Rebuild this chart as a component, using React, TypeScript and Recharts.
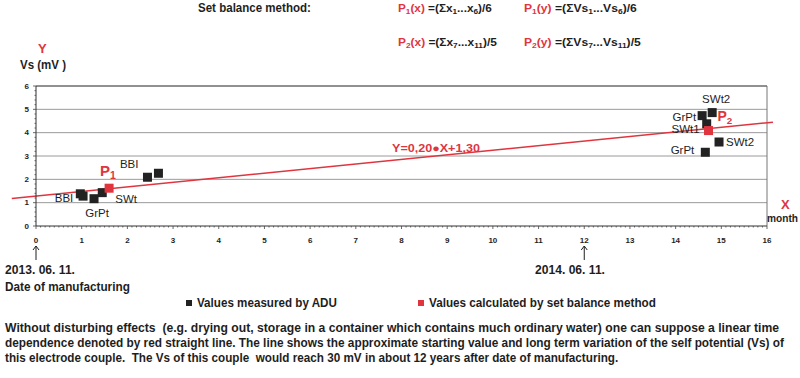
import React, { useLayoutEffect, useRef, useState } from "react";
import {
  ScatterChart,
  Scatter,
  XAxis,
  YAxis,
  CartesianGrid,
  ReferenceLine,
} from "recharts";

// measured by ADU (months after manufacturing, Vs in mV)
const measuredX = [0.97, 1.03, 1.27, 1.45, 2.44, 2.68, 14.58, 14.8, 14.68, 14.95, 14.65];
const measuredY = [1.38, 1.28, 1.17, 1.43, 2.09, 2.26, 4.73, 4.86, 4.38, 3.6, 3.16];
const measuredNames = ["BBI", "", "GrPt", "SWt", "BBI", "", "GrPt", "SWt2", "SWt1", "SWt2", "GrPt"];

// set balance points
const balanceX = [1.6, 14.72];
const balanceY = [1.62, 4.09];
const balanceNames = ["1", "2"];

// red straight line end points
const trendX = [-0.53, 16.13];
const trendY = [1.18, 4.45];

const gridValues = [1, 2, 3, 4, 5, 6];
const arrowMonths = [0, 12];

const xTicks = Array.from({ length: 161 }, (_, i) => i / 10);
const yTicks = Array.from({ length: 31 }, (_, i) => i / 5);

const FONT = "'Liberation Sans', Arial, sans-serif";
const RED = "#e0353f";
const INK = "#1e1e1e";

// label offsets from the square centre, same order as measuredNames
const labelPlacement = [
  { dx: -7, dy: 4, anchor: "end" },
  { dx: 0, dy: 0, anchor: "start" },
  { dx: 3, dy: 14, anchor: "middle" },
  { dx: 13, dy: 6, anchor: "start" },
  { dx: -9, dy: -13, anchor: "end" },
  { dx: 0, dy: 0, anchor: "start" },
  { dx: -6, dy: 1, anchor: "end" },
  { dx: 4, dy: -14, anchor: "middle" },
  { dx: -7, dy: 5, anchor: "end" },
  { dx: 7, dy: 0, anchor: "start" },
  { dx: -11, dy: -2, anchor: "end" },
];
const pPlacement = [
  { dx: -9, dy: -12, size: 15 },
  { dx: 9, dy: -10, size: 14 },
];

const measured = measuredX.map((x, i) => ({ x, y: measuredY[i], name: measuredNames[i], i }));
const balance = balanceX.map((x, i) => ({ x, y: balanceY[i], name: balanceNames[i], i }));

const isMajor = (v: number) => Math.abs(v - Math.round(v)) < 1e-6;

function XTick(props: any) {
  const { x, y, payload } = props;
  const v = payload.value;
  const major = isMajor(v);
  const arrow = major && arrowMonths.includes(Math.round(v));
  return (
    <g>
      <line x1={x} x2={x} y1={y} y2={y + (major ? 3 : 1.5)} stroke="#444" strokeWidth={0.8} />
      {major && (
        <text x={x} y={y + 14} textAnchor="middle" dominantBaseline="central" fontSize={8} fontWeight="bold" fontFamily={FONT} fill={INK}>
          {Math.round(v)}
        </text>
      )}
      {arrow && (
        <g stroke={INK} strokeWidth={1} fill="none">
          <line x1={x} x2={x} y1={y + 34} y2={y + 20} />
          <polyline points={`${x - 3},${y + 24} ${x},${y + 20} ${x + 3},${y + 24}`} />
        </g>
      )}
    </g>
  );
}

function YTick(props: any) {
  const { x, y, payload } = props;
  const v = payload.value;
  const major = isMajor(v);
  return (
    <g>
      <line x1={x} x2={x - (major ? 3 : 1.5)} y1={y} y2={y} stroke="#444" strokeWidth={0.8} />
      {major && (
        <text x={x - 7} y={y} textAnchor="end" dominantBaseline="central" fontSize={8} fontWeight="bold" fontFamily={FONT} fill={INK}>
          {Math.round(v)}
        </text>
      )}
    </g>
  );
}

function MeasuredShape(props: any) {
  const { cx, cy, payload } = props;
  const p = labelPlacement[payload.i];
  return (
    <g>
      <rect x={cx - 4.5} y={cy - 4.5} width={9} height={9} fill="#222" />
      {payload.name && (
        <text x={cx + p.dx} y={cy + p.dy} textAnchor={p.anchor} dominantBaseline="central" fontSize={11.5} fontFamily={FONT} fill={INK}>
          {payload.name}
        </text>
      )}
    </g>
  );
}

function BalanceShape(props: any) {
  const { cx, cy, payload } = props;
  const p = pPlacement[payload.i];
  return (
    <g>
      <rect x={cx - 4.5} y={cy - 4.5} width={9} height={9} fill={RED} />
      <text x={cx + p.dx} y={cy + p.dy} fontSize={p.size} fontWeight="bold" fontFamily={FONT} fill={RED}>
        P
        <tspan fontSize={p.size * 0.7} dy={3}>{payload.name}</tspan>
      </text>
    </g>
  );
}

// overlay text, centred vertically on y; w squeezes it horizontally to the measured width
function T({ x, y, w, size = 12, color = INK, children }: any) {
  const ref = useRef<SVGTextElement>(null);
  const [sx, setSx] = useState(1);
  useLayoutEffect(() => {
    if (w && ref.current) {
      const natural = ref.current.getComputedTextLength();
      if (natural > 0) setSx(w / natural);
    }
  }, [w]);
  return (
    <text
      ref={ref}
      transform={`translate(${x} ${y + size * 0.36}) scale(${sx} 1)`}
      fontSize={size}
      fontWeight="bold"
      fontFamily={FONT}
      fill={color}
      style={{ whiteSpace: "pre" }}
    >
      {children}
    </text>
  );
}

function Formula({ x, y, w, n, axis, body, idxA, idxB, div }: any) {
  return (
    <T x={x} y={y} w={w} size={11.5}>
      <tspan fill={RED}>P</tspan>
      <tspan fill={RED} fontSize={8} dy={2}>{n}</tspan>
      <tspan fill={RED} dy={-2}>({axis})</tspan>
      <tspan> =(Σ{body}</tspan>
      <tspan fontSize={8} dy={2}>{idxA}</tspan>
      <tspan dy={-2}>...{body}</tspan>
      <tspan fontSize={8} dy={2}>{idxB}</tspan>
      <tspan dy={-2}>)/{div}</tspan>
    </T>
  );
}

const paragraph = [
  "Without disturbing effects  (e.g. drying out, storage in a container which contains much ordinary water) one can suppose a linear time",
  "dependence denoted by red straight line. The line shows the approximate starting value and long term variation of the self potential (Vs) of",
  "this electrode couple.  The Vs of this couple  would reach 30 mV in about 12 years after date of manufacturing.",
];
const paragraphWidths = [775, 780, 614];

export default function App() {
  return (
    <div style={{ position: "absolute", left: 0, top: 0, width: 800, height: 378, background: "#fff", overflow: "hidden" }}>
      <ScatterChart width={800} height={378} margin={{ top: 86, right: 33, bottom: 122, left: 16 }}>
        <CartesianGrid horizontal vertical={false} horizontalValues={gridValues} stroke="#9a9a9a" strokeWidth={1} />
        <XAxis
          type="number"
          dataKey="x"
          domain={[0, 16]}
          ticks={xTicks}
          interval={0}
          tickSize={0}
          tickMargin={0}
          tickLine={false}
          tick={<XTick />}
          axisLine={{ stroke: "#333", strokeWidth: 1 }}
          height={30}
        />
        <YAxis
          type="number"
          dataKey="y"
          domain={[0, 6]}
          ticks={yTicks}
          interval={0}
          tickSize={0}
          tickMargin={0}
          tickLine={false}
          tick={<YTick />}
          axisLine={{ stroke: "#333", strokeWidth: 1 }}
          width={20}
        />
        <ReferenceLine x={16} stroke="#777" strokeWidth={1} />
        <ReferenceLine y={6} stroke="#555" strokeWidth={1} />
        <ReferenceLine
          segment={[
            { x: trendX[0], y: trendY[0] },
            { x: trendX[1], y: trendY[1] },
          ]}
          ifOverflow="visible"
          stroke={RED}
          strokeWidth={1.5}
        />
        <Scatter data={measured} shape={<MeasuredShape />} isAnimationActive={false} />
        <Scatter data={balance} shape={<BalanceShape />} isAnimationActive={false} />
      </ScatterChart>

      <svg width={800} height={378} style={{ position: "absolute", left: 0, top: 0, pointerEvents: "none" }}>
        <T x={198} y={8} w={113}>Set balance method:</T>
        <Formula x={398} y={8} w={94} n="1" axis="x" body="x" idxA="1" idxB="6" div="6" />
        <Formula x={524} y={8} w={113} n="1" axis="y" body="Vs" idxA="1" idxB="6" div="6" />
        <Formula x={398} y={42} w={99} n="2" axis="x" body="x" idxA="7" idxB="11" div="5" />
        <Formula x={524} y={42} w={117} n="2" axis="y" body="Vs" idxA="7" idxB="11" div="5" />

        <T x={38} y={48} size={13} color={RED}>Y</T>
        <T x={20} y={65} w={46}>Vs (mV )</T>
        <T x={392} y={148} w={88} size={11} color={RED}>Y=0,20●X+1,30</T>
        <T x={781} y={204} size={13} color={RED}>X</T>
        <T x={767} y={218} w={31} size={11.5}>month</T>

        <T x={5} y={270} w={70}>2013. 06. 11.</T>
        <T x={5} y={287} w={125}>Date of manufacturing</T>
        <T x={535} y={270} w={70}>2014. 06. 11.</T>

        <rect x={186} y={300} width={6} height={6} fill="#222" />
        <T x={197} y={303} w={140}>Values measured by ADU</T>
        <rect x={418} y={300} width={6} height={6} fill={RED} />
        <T x={429} y={303} w={227}>Values calculated by set balance method</T>

        {paragraph.map((line, i) => (
          <T key={i} x={5} y={327 + i * 15} w={paragraphWidths[i]} size={12.5}>
            {line}
          </T>
        ))}
      </svg>
    </div>
  );
}
